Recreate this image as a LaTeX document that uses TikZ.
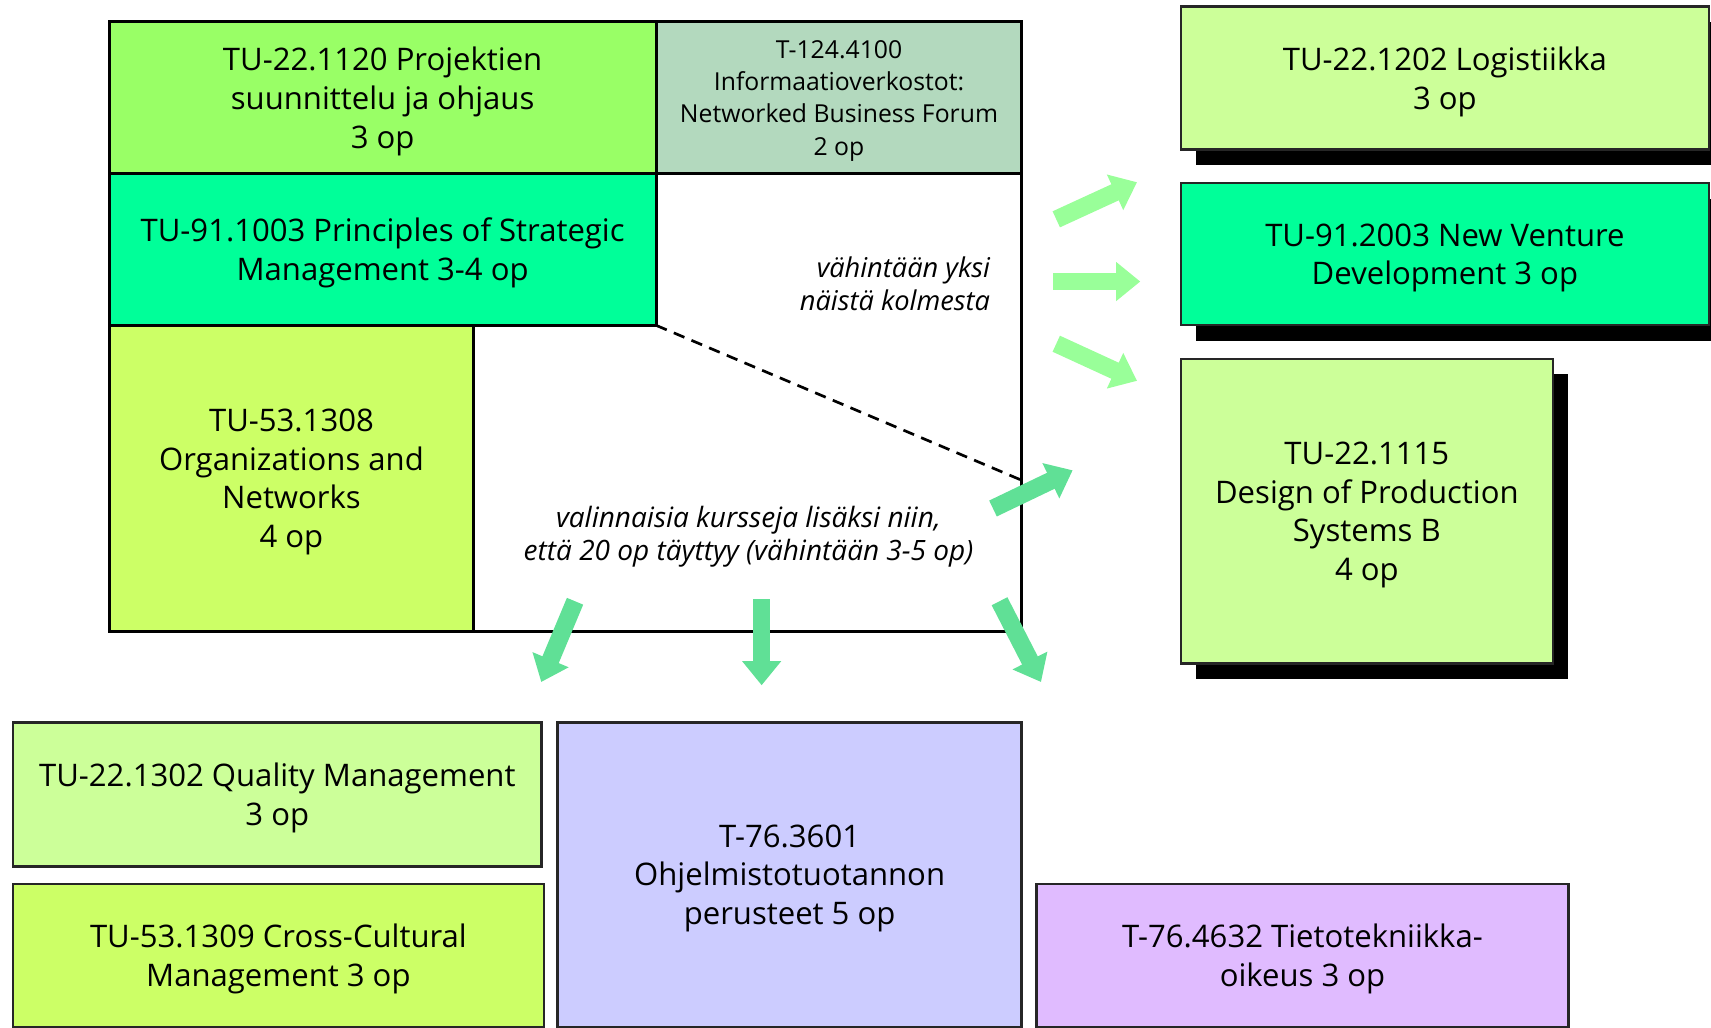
\documentclass[tikz,border=0pt]{standalone}
\usepackage{fontspec}
\setmainfont{Open Sans}
\usepackage{xcolor}
\usetikzlibrary{positioning,arrows.meta,shadows}

\definecolor{projgreen}{HTML}{99FF66}
\definecolor{infogreen}{HTML}{B3D9BE}
\definecolor{mintgreen}{HTML}{00FF99}
\definecolor{limegreen}{HTML}{CCFF66}
\definecolor{palegreen}{HTML}{CCFF99}
\definecolor{lavender}{HTML}{CCCCFF}
\definecolor{lilac}{HTML}{E0BBFF}
\definecolor{lightarrow}{HTML}{99FF99}
\definecolor{darkarrow}{HTML}{60E096}

\begin{document}
\begin{tikzpicture}[
            x=0.01cm,y=-0.01cm,
            box/.style={draw=black,line width=0.8pt,outer sep=0pt,inner sep=0pt,text depth=-1pt,
                anchor=north west,align=center,font=\fontsize{8.1}{10.1}\selectfont},
            course/.style={box,line width=0.6pt,draw=black!85},
            shadowed/.style={course,drop shadow={fill=black,opacity=1,
                shadow xshift=4pt,shadow yshift=-4pt}},
            note/.style={align=center,inner sep=0pt,
                font=\fontsize{7.1}{8.5}\selectfont\itshape},
            fatarrow/.style={line width=4.6pt,-{Triangle[width=9.8pt,length=6.3pt]}}
        ]
            \useasboundingbox (0,0) rectangle (1568,942);

            % compulsory block
            \node[box,fill=projgreen,minimum width=5.01cm,minimum height=1.39cm] (proj) at (100,20)
                {TU-22.1120 Projektien\\suunnittelu ja ohjaus\\3 op};
            \node[box,fill=infogreen,minimum width=3.35cm,minimum height=1.39cm,
                font=\fontsize{6.45}{8.4}\selectfont] (info) at (proj.north east)
                {T-124.4100\\Informaatioverkostot:\\Networked Business Forum\\2 op};
            \node[box,fill=mintgreen,minimum width=5.01cm,minimum height=1.39cm] (princ) at (proj.south west)
                {TU-91.1003 Principles of Strategic\\Management 3-4 op};
            \node[box,fill=limegreen,minimum width=3.34cm,minimum height=2.80cm] (org) at (princ.south west)
                {TU-53.1308\\Organizations and\\Networks\\4 op};
            \node[box,minimum width=8.36cm,minimum height=5.58cm] (frame) at (100,20) {};

            \node[note,align=right,anchor=east] (yksi) at (908,260) {vähintään yksi\\näistä kolmesta};
            \node[note,font=\fontsize{7.3}{8.5}\selectfont\itshape] (valinn) at (686,492)
                {valinnaisia kursseja lisäksi niin,\\että 20 op täyttyy (vähintään 3-5 op)};

            \coordinate (dashend) at (936,440);
            \draw[line width=0.7pt,dash pattern=on 3pt off 2pt] (princ.south east) -- (dashend);

            % choose one of three
            \node[shadowed,fill=palegreen,minimum width=4.84cm,minimum height=1.31cm] (logi) at (1082,6)
                {TU-22.1202 Logistiikka\\3 op};
            \node[shadowed,fill=mintgreen,minimum width=4.84cm,minimum height=1.30cm] (nvd) at (1082,168)
                {TU-91.2003 New Venture\\Development 3 op};
            \node[shadowed,fill=palegreen,minimum width=3.41cm,minimum height=2.79cm] (dps) at (1082,329)
                {TU-22.1115\\Design of Production\\Systems B\\4 op};

            % optional courses
            \node[course,fill=palegreen,minimum width=4.84cm,minimum height=1.32cm] (qm) at (12,662)
                {TU-22.1302 Quality Management\\3 op};
            \node[course,fill=limegreen,minimum width=4.86cm,minimum height=1.31cm] (ccm) at (12,810)
                {TU-53.1309 Cross-Cultural\\Management 3 op};
            \node[course,fill=lavender,minimum width=4.25cm,minimum height=2.79cm] (ohj) at (511,662)
                {T-76.3601\\Ohjelmistotuotannon\\perusteet 5 op};
            \node[course,fill=lilac,minimum width=4.87cm,minimum height=1.31cm] (tieto) at (950,810)
                {T-76.4632 Tietotekniikka-\\oikeus 3 op};

            % block arrows
            \coordinate (r1) at (968,201);   \coordinate (r1t) at (1042,167);
            \coordinate (r2) at (965,258);   \coordinate (r2t) at (1045,258);
            \coordinate (r3) at (968,315);   \coordinate (r3t) at (1042,349);
            \coordinate (s1) at (910,466);   \coordinate (s1t) at (983,431);
            \coordinate (d1) at (527,551);   \coordinate (d1t) at (496,625);
            \coordinate (d2) at (698,549);   \coordinate (d2t) at (698,628);
            \coordinate (d3) at (916,551);   \coordinate (d3t) at (954,625);

            \begin{scope}[fatarrow,lightarrow]
                \draw (r1) -- (r1t);
                \draw (r2) -- (r2t);
                \draw (r3) -- (r3t);
            \end{scope}
            \begin{scope}[fatarrow,darkarrow]
                \draw (s1) -- (s1t);
                \draw (d1) -- (d1t);
                \draw (d2) -- (d2t);
                \draw (d3) -- (d3t);
            \end{scope}
        \end{tikzpicture}
\end{document}
